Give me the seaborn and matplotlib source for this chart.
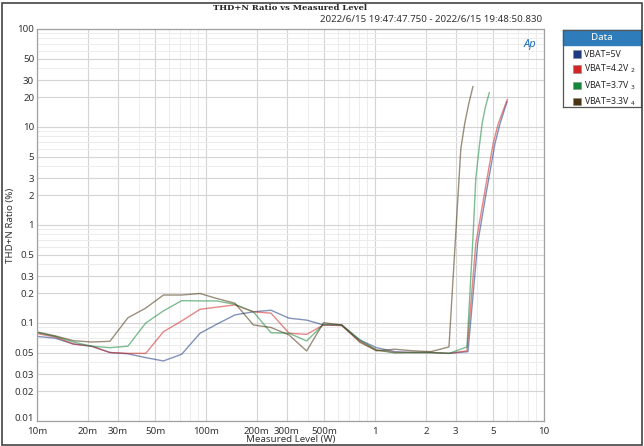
import numpy as np
import pandas as pd
import matplotlib
matplotlib.use("Agg")
import matplotlib.pyplot as plt
import seaborn as sns
from matplotlib.patches import Patch, Rectangle
from matplotlib.ticker import FixedLocator, NullFormatter

# measured level steps (W), shared by the low-power part of all sweeps
level_lo = [0.0100, 0.0128, 0.0164, 0.0210, 0.0270, 0.0345, 0.0440, 0.0560, 0.0718,
            0.0922, 0.1156, 0.1484, 0.1906, 0.2425, 0.310, 0.394, 0.496, 0.635,
            0.815, 1.02, 1.31, 1.68, 2.14, 2.74]

x_5v = level_lo + [3.55, 4.05, 4.5, 5.13, 5.5, 6.05]
y_5v = [0.073, 0.070, 0.061, 0.058, 0.050, 0.0485, 0.0443, 0.041, 0.048, 0.0786,
        0.097, 0.121, 0.130, 0.135, 0.112, 0.107, 0.0955, 0.0955, 0.067, 0.056,
        0.051, 0.050, 0.050, 0.049, 0.051, 0.65, 1.9, 6.8, 10.9, 18.2]

x_42v = level_lo + [3.5, 3.95, 4.4, 5.0, 5.37, 6.07]
y_42v = [0.078, 0.072, 0.061, 0.058, 0.050, 0.049, 0.049, 0.0814, 0.105, 0.138,
         0.145, 0.153, 0.130, 0.126, 0.0786, 0.0766, 0.0955, 0.094, 0.065, 0.053,
         0.050, 0.050, 0.050, 0.049, 0.052, 0.65, 1.9, 6.8, 10.9, 19.2]

x_37v = level_lo + [3.5, 3.8, 3.95, 4.14, 4.31, 4.5, 4.75]
y_37v = [0.080, 0.073, 0.064, 0.058, 0.056, 0.058, 0.100, 0.133, 0.169, 0.168,
         0.168, 0.155, 0.130, 0.0796, 0.0786, 0.0655, 0.097, 0.0955, 0.067, 0.053,
         0.0495, 0.050, 0.050, 0.049, 0.057, 0.75, 3.0, 6.3, 11.0, 16.0, 22.5]

x_33v = level_lo + [3.22, 3.4, 3.58, 3.8]
y_33v = [0.081, 0.074, 0.066, 0.064, 0.065, 0.113, 0.142, 0.193, 0.193, 0.200,
         0.178, 0.159, 0.0955, 0.090, 0.0755, 0.0518, 0.1007, 0.0955, 0.0635, 0.052,
         0.054, 0.052, 0.051, 0.057, 6.0, 11.0, 17.0, 26.0]

series = ["VBAT=5V", "VBAT=4.2V", "VBAT=3.7V", "VBAT=3.3V"]
legend_labels = ["VBAT=5V", "VBAT=4.2V $_{2}$", "VBAT=3.7V $_{3}$", "VBAT=3.3V $_{4}$"]
colors = ["#1B3A82", "#D02626", "#15873A", "#4A3310"]

y_ticks = [0.01, 0.02, 0.03, 0.05, 0.1, 0.2, 0.3, 0.5, 1, 2, 3, 5, 10, 20, 30, 50, 100]
y_ticklabels = ["0.01", "0.02", "0.03", "0.05", "0.1", "0.2", "0.3", "0.5", "1", "2",
                "3", "5", "10", "20", "30", "50", "100"]
x_ticks = [0.01, 0.02, 0.03, 0.05, 0.1, 0.2, 0.3, 0.5, 1, 2, 3, 5, 10]
x_ticklabels = ["10m", "20m", "30m", "50m", "100m", "200m", "300m", "500m",
                "1", "2", "3", "5", "10"]

frames = []
for name, xs, ys in zip(series, [x_5v, x_42v, x_37v, x_33v], [y_5v, y_42v, y_37v, y_33v]):
    frames.append(pd.DataFrame({"Level": xs, "THDN": ys, "Series": name}))
df = pd.concat(frames, ignore_index=True)

sns.set_style("white")
plt.rcParams["font.family"] = ["Noto Sans", "DejaVu Sans"]

fig = plt.figure(figsize=(6.44, 4.46), dpi=100)
ax = fig.add_axes([37 / 644, 1 - 421 / 446, 507 / 644, 392 / 446])

sns.lineplot(data=df, x="Level", y="THDN", hue="Series", hue_order=series,
             palette=colors, estimator=None, sort=False, linewidth=1.0,
             alpha=0.55, legend=False, ax=ax)

ax.set_xscale("log")
ax.set_yscale("log")
ax.set_xlim(0.01, 10)
ax.set_ylim(0.01, 100)

ax.yaxis.set_major_locator(FixedLocator(y_ticks))
ax.set_yticklabels(y_ticklabels)
ax.xaxis.set_major_locator(FixedLocator(x_ticks))
ax.set_xticklabels(x_ticklabels)
minor_vals = [m * 10.0 ** e for e in range(-2, 2) for m in (4, 6, 7, 8, 9)]
ax.xaxis.set_minor_locator(FixedLocator(minor_vals))
ax.yaxis.set_minor_locator(FixedLocator(minor_vals))
ax.xaxis.set_minor_formatter(NullFormatter())
ax.yaxis.set_minor_formatter(NullFormatter())
ax.tick_params(which="both", length=0, labelsize=7, colors="#333333")
ax.tick_params(axis="x", pad=4.5)
ax.tick_params(axis="y", pad=2)
# sit the bottom y label on the axis line so it clears "10m"
ax.get_yticklabels()[0].set_va("baseline")

ax.grid(which="major", color="#D4D4D4", linewidth=0.8)
ax.grid(which="minor", color="#ECECEC", linewidth=0.7)
for s in ax.spines.values():
    s.set_color("#A0A0A0")
    s.set_linewidth(0.9)

ax.set_xlabel("Measured Level (W)", fontsize=7, labelpad=-1, color="#333333")
ax.set_ylabel("THD+N Ratio (%)", fontsize=7, color="#333333")
ax.yaxis.label.set_va("center")
ax.yaxis.set_label_coords(-0.053, 0.5)

ax.text(0.985, 0.975, "Ap", transform=ax.transAxes, ha="right", va="top",
        color="#1E6FB8", fontsize=8, fontstyle="italic", fontweight="bold")

fig.text(290 / 644, 1 - 8 / 446, "THD+N Ratio vs Measured Level", ha="center",
         va="center", fontsize=6, family="DejaVu Serif", fontweight="bold")
fig.text(542 / 644, 1 - 20 / 446, "2022/6/15 19:47:47.750 - 2022/6/15 19:48:50.830",
         ha="right", va="center", fontsize=7, color="#333333")

# outer frame of the export
fig.patches.append(Rectangle((1.5 / 644, 1.5 / 446), 640 / 644, 442 / 446,
                             transform=fig.transFigure, fill=False,
                             edgecolor="#444444", linewidth=1.2))

# legend panel with blue header
lax = fig.add_axes([563 / 644, 1 - 107 / 446, 78 / 644, 77 / 446])
lax.set_xticks([])
lax.set_yticks([])
for s in lax.spines.values():
    s.set_color("#555555")
    s.set_linewidth(0.9)
lax.add_patch(Rectangle((0, 1 - 15 / 77), 1, 15 / 77, transform=lax.transAxes,
                        color="#2E7DBA", clip_on=False))
lax.text(0.5, 1 - 7.5 / 77, "Data", transform=lax.transAxes, ha="center",
         va="center", color="white", fontsize=7, fontweight="bold")
handles = [Patch(facecolor=c, edgecolor="#888888", linewidth=0.4) for c in colors]
lax.legend(handles, legend_labels, loc="upper left", bbox_to_anchor=(0.13, 0.74),
           frameon=False, fontsize=6.3, handlelength=0.9, handleheight=0.9,
           handletextpad=0.35, labelspacing=0.45, borderaxespad=0, borderpad=0)

fig.savefig("out.png", dpi=100)
